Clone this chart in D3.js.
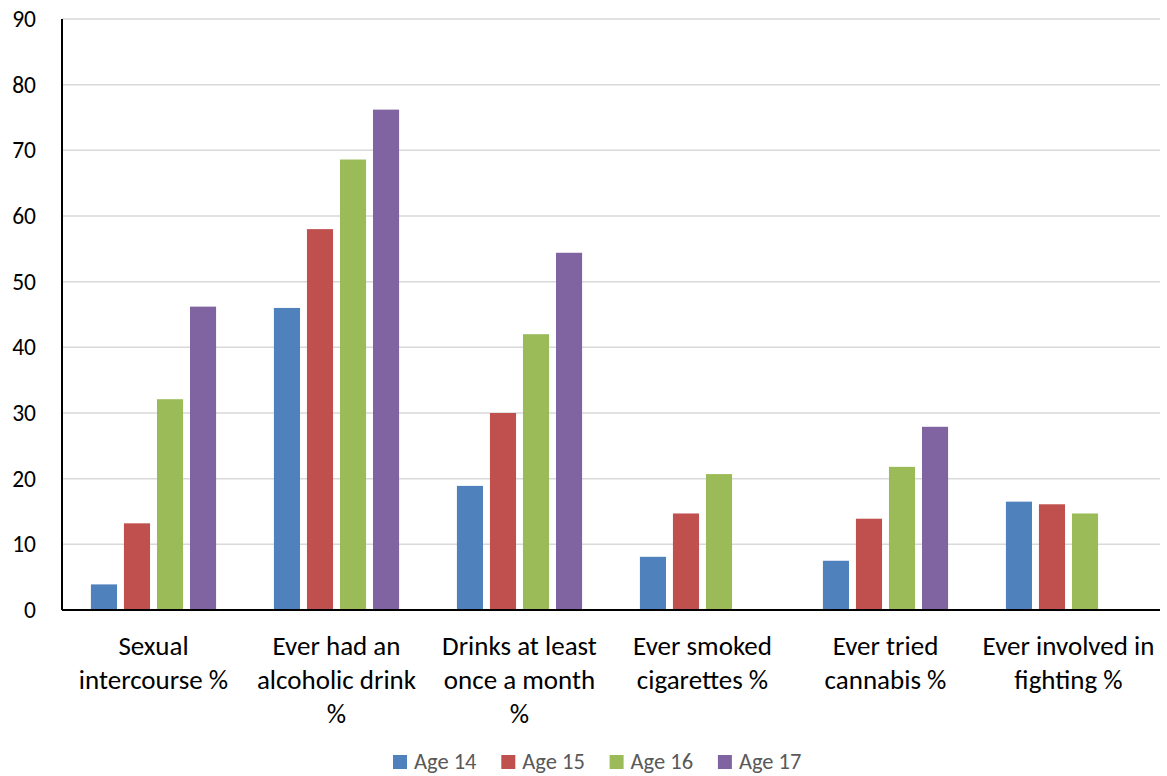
<!DOCTYPE html>
<html>
<head>
<meta charset="utf-8">
<script src="https://cdn.jsdelivr.net/npm/d3@7"></script>
<style>
  html, body { margin: 0; padding: 0; background: #fff; }
  svg { display: block; font-family: Carlito, Calibri, Lato, "Open Sans", sans-serif; }
</style>
</head>
<body>
<svg id="chart" width="1167" height="776"></svg>
<script>
// Category labels, one array of lines per group
const categories = [
  ["Sexual", "intercourse %"],
  ["Ever had an", "alcoholic drink", "%"],
  ["Drinks at least", "once a month", "%"],
  ["Ever smoked", "cigarettes %"],
  ["Ever tried", "cannabis %"],
  ["Ever involved in", "fighting %"]
];
const seriesNames = ["Age 14", "Age 15", "Age 16", "Age 17"];
const seriesColors = ["#4F81BD", "#C0504D", "#9BBB59", "#8064A2"];

// Percentages per age, in category order (null = no bar)
const age14 = [3.9, 46.0, 18.9, 8.1, 7.5, 16.5];
const age15 = [13.2, 58.0, 30.0, 14.7, 13.9, 16.1];
const age16 = [32.1, 68.6, 42.0, 20.7, 21.8, 14.7];
const age17 = [46.2, 76.2, 54.4, null, 27.9, null];
const yTicks = [0, 10, 20, 30, 40, 50, 60, 70, 80, 90];

const series = [age14, age15, age16, age17];

const svg = d3.select("#chart");
const plot = { left: 62, right: 1160, top: 19, bottom: 610 };

const y = d3.scaleLinear().domain([0, 90]).range([plot.bottom, plot.top]);
const x0 = d3.scaleBand().domain(d3.range(categories.length)).range([plot.left, plot.right]).padding(0);
const bw = x0.bandwidth();
const x1 = d3.scaleBand().domain(d3.range(seriesNames.length))
  .range([bw * 0.158, bw * 0.842]).paddingInner(0.21).paddingOuter(0);

// Horizontal gridlines
svg.append("g")
  .selectAll("line")
  .data(yTicks.filter(t => t > 0))
  .join("line")
  .attr("x1", plot.left).attr("x2", plot.right)
  .attr("y1", d => y(d)).attr("y2", d => y(d))
  .attr("stroke", "#d9d9d9").attr("stroke-width", 1.5);

// Y axis labels
const yAxis = d3.axisLeft(y).tickValues(yTicks).tickSize(0).tickPadding(26);
const gy = svg.append("g").attr("transform", `translate(${plot.left},0)`).call(yAxis);
gy.select(".domain").remove();
gy.selectAll("text").attr("font-size", 23.5).attr("fill", "#000");
gy.attr("font-family", null).attr("font-size", null);

// Bars
const groups = svg.append("g").selectAll("g")
  .data(categories.map((c, i) => i))
  .join("g")
  .attr("transform", i => `translate(${x0(i)},0)`);

groups.selectAll("rect")
  .data(i => series.map((s, k) => ({ k, v: s[i] })).filter(d => d.v != null))
  .join("rect")
  .attr("x", d => x1(d.k))
  .attr("width", x1.bandwidth())
  .attr("y", d => y(d.v))
  .attr("height", d => y(0) - y(d.v))
  .attr("fill", d => seriesColors[d.k]);

// Axis lines
svg.append("line").attr("x1", plot.left).attr("x2", plot.left).attr("y1", plot.top).attr("y2", plot.bottom)
  .attr("stroke", "#000").attr("stroke-width", 2);
svg.append("line").attr("x1", plot.left).attr("x2", plot.right).attr("y1", plot.bottom).attr("y2", plot.bottom)
  .attr("stroke", "#000").attr("stroke-width", 2);

// Category labels
const lab = svg.append("g").selectAll("text")
  .data(categories)
  .join("text")
  .attr("text-anchor", "middle")
  .attr("font-size", 27)
  .attr("fill", "#000")
  .attr("x", (d, i) => x0(i) + bw / 2)
  .attr("y", 655);
lab.selectAll("tspan")
  .data(d => d)
  .join("tspan")
  .attr("x", function() { return d3.select(this.parentNode).attr("x"); })
  .attr("dy", (d, i) => i === 0 ? 0 : 34)
  .text(d => d);

// Legend
const legend = svg.append("g").attr("transform", "translate(393,0)");
const items = legend.selectAll("g")
  .data(seriesNames)
  .join("g")
  .attr("transform", (d, i) => `translate(${i * 108.3},0)`);
items.append("rect").attr("x", 0).attr("y", 755).attr("width", 14).attr("height", 14)
  .attr("fill", (d, i) => seriesColors[i]);
items.append("text").attr("x", 21).attr("y", 769)
  .attr("font-size", 22.5).attr("fill", "#595959").text(d => d);
</script>
</body>
</html>
